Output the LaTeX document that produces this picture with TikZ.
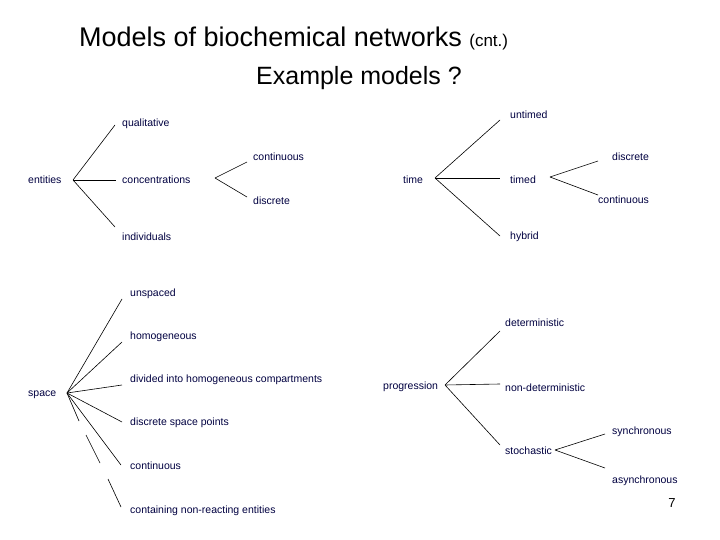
\documentclass[tikz,border=0pt]{standalone}
\usepackage{fontspec}
\setmainfont{Liberation Sans}
\usepackage{tikz}
\begin{document}
\begin{tikzpicture}[x=1pt,y=-1pt,
	lbl/.style={anchor=west,inner sep=0pt,font=\fontsize{10.5}{12}\selectfont,text=black!75!blue},
	br/.style={black,line width=0.6pt}]
	\useasboundingbox (0,0) rectangle (720,540);
	
	%titles
	\node[anchor=west,inner sep=0pt,font=\fontsize{27}{30}\selectfont] (title) at (79,38) {Models of biochemical networks {\fontsize{17}{18}\selectfont (cnt.)}};
	\node[inner sep=0pt,font=\fontsize{25}{27}\selectfont] (sub) at (359,78) {Example models ?};
	
	%entities
	\node[lbl] (ent) at (28,180) {entities};
	\coordinate (e0) at (73,180);
	\node[lbl] (qual) at (122,124) {qualitative};
	\node[lbl] (conc) at (122,180) {concentrations};
	\node[lbl] (indiv) at (122,237) {individuals};
	\draw[br] (e0)--(115,125);
	\draw[br] (e0)--(116,180);
	\draw[br] (e0)--(115,227);
	\node[lbl] (ccont) at (253,157) {continuous};
	\node[lbl] (cdisc) at (253,201) {discrete};
	\coordinate (c0) at (215,178);
	\draw[br] (c0)--(247,162);
	\draw[br] (c0)--(247,197);
	
	%time
	\node[lbl] (time) at (403,180) {time};
	\coordinate (t0) at (435,178);
	\node[lbl] (untimed) at (510,115) {untimed};
	\node[lbl] (timed) at (510,180) {timed};
	\node[lbl] (hybrid) at (510,237) {hybrid};
	\draw[br] (t0)--(500,120);
	\draw[br] (t0)--(500,178);
	\draw[br] (t0)--(500,236);
	\coordinate (d0) at (550,177);
	\node[lbl] (tdisc) at (612,157) {discrete};
	\node[lbl] (tcont) at (598,200) {continuous};
	\draw[br] (d0)--(598,161);
	\draw[br] (d0)--(598,195);
	
	%space
	\node[lbl] (space) at (28,395) {space};
	\coordinate (s0) at (67,393);
	\node[lbl] (unsp) at (130,294) {unspaced};
	\node[lbl] (homo) at (130,337) {homogeneous};
	\node[lbl] (divi) at (130,380) {divided into homogeneous compartments};
	\node[lbl] (dpts) at (130,423) {discrete space points};
	\node[lbl] (scont) at (130,466) {continuous};
	\node[lbl] (nonr) at (130,511) {containing non-reacting entities};
	\draw[br] (s0)--(122,299);
	\draw[br] (s0)--(122,342);
	\draw[br] (s0)--(122,385);
	\draw[br] (s0)--(122,422);
	\draw[br] (s0)--(121,465);
	\draw[br] (s0)--(79,421);
	\draw[br] (86,435)--(100,463);
	\draw[br] (108,479)--(121,507);
	
	%progression
	\node[lbl] (prog) at (383,387) {progression};
	\coordinate (p0) at (445,385);
	\node[lbl] (det) at (505,323) {deterministic};
	\node[lbl] (ndet) at (505,388) {non-deterministic};
	\node[lbl] (stoch) at (505,451) {stochastic};
	\draw[br] (p0)--(500,331);
	\draw[br] (p0)--(500,384);
	\draw[br] (p0)--(500,445);
	\coordinate (q0) at (555,450);
	\node[lbl] (sync) at (612,432) {synchronous};
	\node[lbl] (async) at (612,481) {asynchronous};
	\draw[br] (q0)--(605,434);
	\draw[br] (q0)--(605,468);
	
	\node[inner sep=0pt,font=\fontsize{13}{14}\selectfont] (pg) at (672,503) {7};
\end{tikzpicture}
\end{document}
